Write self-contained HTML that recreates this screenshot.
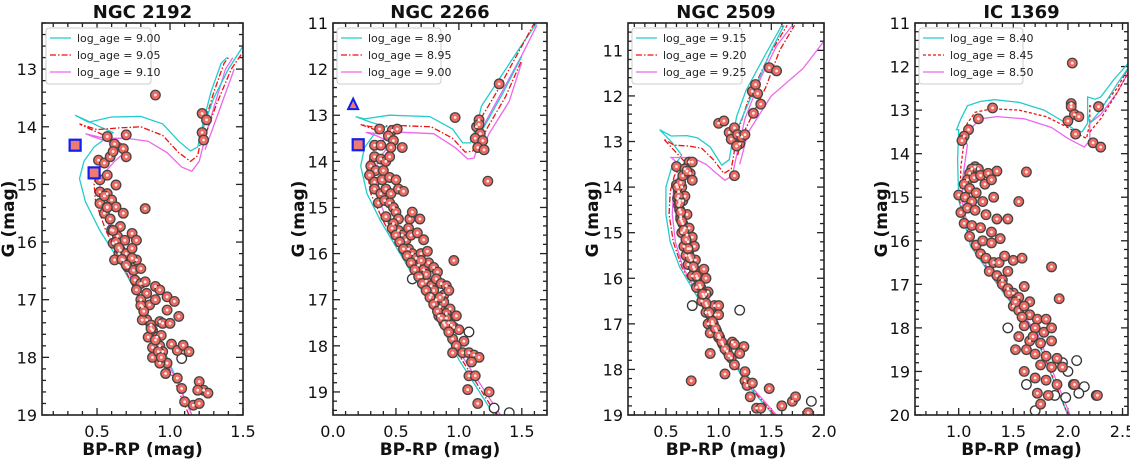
<!DOCTYPE html>
<html><head><meta charset="utf-8">
<style>
html,body{margin:0;padding:0;background:#fff;}
svg{display:block;font-family:"DejaVu Sans","Liberation Sans",sans-serif;}
</style></head>
<body>
<svg id="fig" width="1130" height="460" viewBox="0 0 1130 460"></svg>
<script>
// ---------- Panel 1: NGC 2192 ----------
const p1Title = "NGC 2192";
const p1Ages = ["9.00","9.05","9.10"];
const p1XTicks = [0.5,1.0,1.5];
const p1YTicks = [13,14,15,16,17,18,19];
const p1IsoA = [[1.15,19.0],[0.98,18.0],[0.8,17.0],[0.62,16.2],[0.52,15.8],[0.42,15.3],[0.38,14.9],[0.41,14.6],[0.48,14.35],[0.56,14.2],[0.61,14.1],[0.52,14.0],[0.42,13.88],[0.35,13.8],[0.44,13.92],[0.6,13.83],[0.8,13.82],[0.95,13.95],[1.06,14.25],[1.14,14.42],[1.19,14.35],[1.23,13.9],[1.28,13.4],[1.35,12.9],[1.39,12.8]];
const p1IsoA2 = [[1.2,14.2],[1.3,13.5],[1.4,13.0],[1.5,12.6]];
const p1IsoB = [[1.13,19.0],[0.96,18.0],[0.79,17.0],[0.64,16.2],[0.56,15.8],[0.49,15.3],[0.48,15.0],[0.5,14.75],[0.57,14.52],[0.64,14.38],[0.67,14.3],[0.55,14.15],[0.42,14.0],[0.38,13.95],[0.5,14.05],[0.65,14.02],[0.8,14.0],[0.95,14.15],[1.06,14.45],[1.14,14.6],[1.19,14.5],[1.23,14.0],[1.3,13.4],[1.37,12.9],[1.4,12.8]];
const p1IsoB2 = [[1.22,14.3],[1.32,13.6],[1.42,13.0],[1.5,12.7]];
const p1IsoC = [[1.15,19.0],[0.97,18.0],[0.8,17.0],[0.66,16.2],[0.58,15.7],[0.53,15.3],[0.52,15.0],[0.55,14.8],[0.62,14.6],[0.7,14.42],[0.6,14.28],[0.47,14.17],[0.42,14.12],[0.55,14.2],[0.7,14.2],[0.85,14.25],[0.98,14.45],[1.08,14.7],[1.15,14.77],[1.2,14.6],[1.25,14.1],[1.32,13.5],[1.38,13.0],[1.43,12.8]];
const p1IsoC2 = [[1.24,14.4],[1.34,13.7],[1.44,13.0]];
const p1MemX = [0.9,1.22,1.25,1.22,1.23,0.57,0.7,0.62,0.68,0.7,0.51,0.55,0.59,0.61,0.52,0.57,0.63,0.52,0.57,0.52,0.6,0.57,0.63,0.68,0.55,0.83,0.6,0.64,0.66,0.61,0.69,0.74,0.77,0.65,0.68,0.71,0.75,0.77,0.62,0.66,0.7,0.74,0.76,0.8,0.83,0.77,0.84,0.9,0.93,0.98,0.8,0.81,0.86,0.9,0.84,0.87,0.93,0.98,1.03,1.06,0.95,1.0,0.88,0.85,0.91,0.93,0.88,0.88,0.95,0.98,1.01,1.05,1.09,1.13,0.97,1.05,1.08,1.2,1.23,1.26,1.19,1.1,1.16,1.2,0.93,0.94,0.81,0.74,0.8,0.55,0.57,0.59,0.61,0.63,0.65,0.67,0.7,0.8,0.82,0.87,0.9,0.92,0.94];
const p1MemG = [13.45,13.77,13.88,14.1,14.23,14.17,14.14,14.3,14.38,14.52,14.58,14.63,14.52,14.43,14.92,14.84,15.01,15.13,15.16,15.33,15.27,15.39,15.39,15.5,15.5,15.42,15.79,15.9,15.73,16.02,15.97,15.85,15.97,16.2,16.31,16.43,16.49,16.31,16.31,16.14,16.2,16.11,16.66,16.72,16.69,16.83,16.89,16.77,16.83,16.95,17.0,17.12,17.09,17.0,17.35,17.44,17.38,17.18,17.03,17.29,17.41,17.41,17.53,17.65,17.65,17.8,17.83,18.0,17.9,18.1,17.77,17.88,17.79,17.9,18.28,18.36,18.54,18.42,18.57,18.62,18.57,18.77,18.83,18.8,18.1,17.62,17.35,16.28,16.46,15.2,15.4,15.6,15.8,16.0,16.1,16.3,16.4,17.1,17.2,17.5,17.7,17.9,18.0];
const p1NonX = [1.08];
const p1NonG = [18.02];
const p1SqX = [0.35,0.48];
const p1SqG = [14.32,14.8];
const p1TriX = [];
const p1TriG = [];

// ---------- Panel 2: NGC 2266 ----------
const p2Title = "NGC 2266";
const p2Ages = ["8.90","8.95","9.00"];
const p2XTicks = [0.0,0.5,1.0,1.5];
const p2YTicks = [11,12,13,14,15,16,17,18,19];
const p2IsoA = [[1.28,19.5],[1.0,18.3],[0.75,17.0],[0.5,15.85],[0.38,15.3],[0.27,14.7],[0.22,14.1],[0.25,13.7],[0.33,13.4],[0.42,13.25],[0.3,13.15],[0.18,13.03],[0.25,13.08],[0.45,13.0],[0.77,13.03],[0.95,13.3],[1.03,13.6],[1.09,13.6],[1.14,13.25],[1.18,12.8],[1.3,12.3],[1.51,11.43],[1.62,11.0]];
const p2IsoA2 = [[1.14,13.6],[1.19,13.3],[1.35,12.52],[1.5,11.72]];
const p2IsoB = [[1.3,19.5],[1.0,18.2],[0.76,17.0],[0.52,15.9],[0.4,15.3],[0.3,14.7],[0.27,14.2],[0.3,13.85],[0.37,13.6],[0.44,13.45],[0.32,13.3],[0.22,13.2],[0.3,13.25],[0.5,13.22],[0.78,13.25],[0.95,13.5],[1.05,13.8],[1.11,13.78],[1.15,13.45],[1.19,13.0],[1.3,12.5],[1.48,11.6],[1.6,11.0]];
const p2IsoB2 = [[1.15,13.75],[1.22,13.3],[1.37,12.6],[1.5,11.8]];
const p2IsoC = [[1.33,19.5],[1.02,18.2],[0.78,17.0],[0.54,15.9],[0.43,15.3],[0.35,14.7],[0.33,14.3],[0.36,13.95],[0.42,13.75],[0.47,13.6],[0.35,13.45],[0.26,13.37],[0.35,13.4],[0.55,13.37],[0.8,13.4],[0.97,13.7],[1.07,13.95],[1.12,13.93],[1.16,13.6],[1.2,13.2],[1.32,12.6],[1.5,11.7],[1.62,11.05]];
const p2IsoC2 = [[1.17,13.8],[1.24,13.4],[1.4,12.7],[1.5,11.85]];
const p2MemX = [0.97,1.32,0.47,0.51,0.44,0.48,0.37,0.33,0.38,0.46,0.55,0.33,0.38,0.42,0.45,0.3,0.34,0.4,0.29,0.33,0.39,0.45,0.5,0.33,0.38,0.42,0.46,0.52,0.56,0.36,0.41,0.45,0.48,0.5,0.42,0.52,0.61,0.6,0.69,0.63,0.48,0.52,0.55,0.58,0.62,0.67,0.72,0.6,0.63,0.66,0.7,0.75,0.68,0.72,0.76,0.8,0.83,0.96,0.7,0.74,0.78,0.82,0.86,0.9,0.88,0.92,0.78,0.82,0.85,0.88,0.93,0.98,0.9,0.84,0.88,0.92,0.96,1.0,0.95,1.04,0.98,1.03,0.95,1.08,1.12,1.16,1.1,1.08,1.13,1.07,1.15,1.24,1.16,1.14,1.17,1.13,1.19,1.15,1.2,1.16,1.23,0.7,0.74,0.8,0.85,0.9,0.94,0.47,0.5,0.53,0.56,0.59,0.62,0.65,0.68,0.71,0.74,0.77,0.8,0.83,0.86,0.89,0.92];
const p2MemG = [13.05,12.32,13.33,13.3,13.45,13.55,13.3,13.65,13.65,13.7,13.7,13.9,13.95,14.0,13.9,14.1,14.2,14.2,14.3,14.45,14.4,14.35,14.4,14.6,14.7,14.6,14.7,14.6,14.65,14.9,14.85,14.9,15.0,15.1,15.2,15.25,15.25,15.45,15.25,15.1,15.35,15.5,15.6,15.7,15.6,15.55,15.7,15.9,16.0,16.1,16.0,15.95,16.25,16.35,16.2,16.3,16.4,16.15,16.5,16.6,16.7,16.55,16.65,16.7,16.9,16.8,16.9,17.0,17.15,17.05,17.2,17.35,17.3,17.35,17.5,17.5,17.6,17.65,17.85,17.9,18.0,18.15,18.15,18.15,18.2,18.25,18.35,18.65,18.65,18.95,19.25,19.0,13.1,13.25,13.4,13.5,13.55,13.7,13.75,13.2,14.43,16.15,16.45,16.8,16.95,17.4,17.55,15.45,15.6,15.75,15.9,16.05,16.2,16.35,16.5,16.65,16.8,16.95,17.1,17.25,17.4,17.55,17.7];
const p2NonX = [0.63,1.08,1.28,1.4];
const p2NonG = [16.55,17.7,19.35,19.45];
const p2SqX = [0.2];
const p2SqG = [13.64];
const p2TriX = [0.16];
const p2TriG = [12.77];

// ---------- Panel 3: NGC 2509 ----------
const p3Title = "NGC 2509";
const p3Ages = ["9.15","9.20","9.25"];
const p3XTicks = [0.5,1.0,1.5,2.0];
const p3YTicks = [11,12,13,14,15,16,17,18,19];
const p3IsoA = [[1.52,19.0],[1.26,18.3],[1.07,17.57],[0.82,16.5],[0.63,15.75],[0.54,15.2],[0.5,14.6],[0.5,14.0],[0.55,13.6],[0.62,13.4],[0.65,13.3],[0.55,13.0],[0.44,12.74],[0.55,12.88],[0.7,12.87],[0.8,12.92],[0.92,13.12],[1.03,13.52],[1.1,13.4],[1.17,12.46],[1.26,11.88],[1.45,11.07],[1.6,10.45]];
const p3IsoA2 = [[1.15,13.0],[1.2,12.6],[1.35,11.8],[1.5,11.0],[1.62,10.45]];
const p3IsoB = [[1.53,19.0],[1.27,18.3],[1.08,17.57],[0.83,16.5],[0.65,15.75],[0.57,15.2],[0.53,14.6],[0.54,14.1],[0.58,13.75],[0.65,13.55],[0.68,13.45],[0.58,13.2],[0.48,12.95],[0.58,13.08],[0.72,13.1],[0.84,13.15],[0.95,13.4],[1.05,13.7],[1.12,13.6],[1.18,12.8],[1.28,12.1],[1.48,11.1],[1.65,10.45]];
const p3IsoB2 = [[1.18,13.3],[1.24,12.8],[1.45,11.8],[1.58,11.0],[1.72,10.45]];
const p3IsoC = [[1.55,19.0],[1.28,18.3],[1.09,17.57],[0.84,16.5],[0.66,15.75],[0.59,15.2],[0.56,14.6],[0.57,14.1],[0.61,13.8],[0.68,13.65],[0.6,13.45],[0.55,13.35],[0.62,13.35],[0.75,13.35],[0.88,13.5],[0.98,13.7],[1.06,13.85],[1.13,13.75],[1.18,13.2],[1.25,12.5],[1.4,11.6],[1.55,10.9],[1.7,10.45]];
const p3IsoC2 = [[1.2,13.5],[1.28,12.8],[1.5,12.0],[1.8,11.4],[2.0,10.8]];
const p3MemX = [0.6,0.72,0.75,0.68,0.73,0.75,0.6,0.62,0.61,0.62,0.63,0.64,0.66,0.68,0.7,0.71,0.73,0.72,0.7,0.72,0.75,0.77,0.66,0.65,0.68,0.74,0.77,0.8,0.83,0.86,0.89,0.92,0.95,0.98,1.01,1.04,1.08,1.12,1.15,0.78,0.86,0.88,0.9,0.88,0.96,1.0,0.97,1.0,0.9,0.92,0.92,1.06,0.74,1.13,1.15,1.24,1.2,1.25,1.25,1.27,1.32,1.3,1.36,1.4,1.48,1.6,1.7,1.73,1.85,1.0,1.05,1.1,1.15,1.12,1.18,1.2,1.22,1.25,1.17,1.15,1.33,1.4,1.32,1.35,1.48,1.55,1.37,0.63,0.64,0.65,0.67,0.69,0.71,0.75,0.79,0.84,0.88,0.94,1.0,1.06,0.61,0.62,0.63,0.64,0.65,0.67,0.69,0.71,0.73,0.76,0.79,0.82,0.85,0.88,0.91,0.94,0.97,1.0,1.03,1.06,1.1,0.64,0.66,0.7];
const p3MemG = [13.55,13.45,13.45,13.6,13.7,13.85,13.95,14.1,14.25,14.4,14.5,14.65,14.8,14.9,15.05,15.2,15.35,15.5,14.6,14.9,15.1,15.3,14.3,14.0,14.2,15.6,15.8,16.0,16.2,16.4,16.6,16.8,17.0,17.15,17.3,17.45,17.6,17.75,17.9,15.6,15.8,16.0,16.3,16.35,16.6,16.6,16.8,16.8,17.0,17.2,17.65,18.1,18.25,17.4,17.45,17.5,17.65,18.05,18.25,18.35,18.3,18.6,18.85,18.85,18.42,18.8,18.7,18.6,18.95,12.6,12.55,12.8,12.7,12.95,12.85,13.05,12.9,12.85,13.1,13.75,12.38,12.18,11.9,11.75,11.38,11.45,11.95,14.3,14.7,15.0,15.3,15.5,15.7,15.95,16.2,16.5,16.75,17.0,17.3,17.55,14.0,14.2,14.35,14.55,14.75,14.95,15.15,15.35,15.55,15.75,15.95,16.15,16.35,16.55,16.75,16.95,17.1,17.25,17.4,17.55,17.7,13.9,13.75,13.65];
const p3NonX = [0.75,1.2,1.88];
const p3NonG = [16.6,16.7,18.7];
const p3SqX = [];
const p3SqG = [];
const p3TriX = [];
const p3TriG = [];

// ---------- Panel 4: IC 1369 ----------
const p4Title = "IC 1369";
const p4Ages = ["8.40","8.45","8.50"];
const p4XTicks = [1.0,1.5,2.0,2.5];
const p4YTicks = [11,12,13,14,15,16,17,18,19,20];
const p4IsoA = [[2.0,20.0],[1.69,18.12],[1.39,17.13],[1.11,16.13],[1.0,15.06],[0.99,14.14],[1.0,13.45],[0.98,13.45],[1.02,13.2],[1.08,12.9],[1.2,12.8],[1.33,12.76],[1.55,12.82],[1.78,13.0],[1.95,13.25],[2.06,13.45],[2.13,13.5],[2.18,13.3],[2.18,12.7],[2.25,12.75],[2.3,12.7],[2.42,12.3],[2.56,11.9]];
const p4IsoA2 = [[2.18,13.1],[2.2,13.3],[2.3,13.0],[2.45,12.4],[2.56,12.0]];
const p4IsoB = [[2.0,20.0],[1.7,18.12],[1.4,17.13],[1.12,16.13],[1.01,15.1],[1.02,14.3],[1.05,13.7],[1.03,13.6],[1.08,13.3],[1.15,13.05],[1.3,12.97],[1.55,13.0],[1.8,13.15],[2.0,13.4],[2.13,13.6],[2.17,13.65],[2.2,13.3],[2.2,12.9],[2.3,12.95],[2.45,12.5],[2.56,12.0]];
const p4IsoB2 = [[2.2,13.5],[2.3,13.2],[2.45,12.6],[2.56,12.1]];
const p4IsoC = [[2.02,20.0],[1.72,18.12],[1.41,17.13],[1.13,16.13],[1.03,15.1],[1.04,14.5],[1.08,13.8],[1.06,13.7],[1.12,13.4],[1.2,13.2],[1.35,13.15],[1.6,13.2],[1.85,13.4],[2.0,13.65],[2.15,13.85],[2.2,13.7],[2.2,13.3],[2.3,13.1],[2.45,12.6],[2.56,12.1]];
const p4IsoC2 = [];
const p4MemX = [2.04,2.03,2.03,2.06,2.1,2.0,2.07,2.23,2.3,2.28,1.31,1.18,1.09,1.05,1.03,1.15,1.18,1.12,1.1,1.35,1.62,1.08,1.14,1.2,1.27,1.05,1.1,1.16,1.24,1.3,1.0,1.06,1.12,1.22,1.32,1.55,1.02,1.08,1.15,1.25,1.35,1.45,1.05,1.12,1.2,1.3,1.1,1.16,1.22,1.3,1.38,1.2,1.25,1.32,1.37,1.42,1.5,1.58,1.28,1.35,1.4,1.45,1.85,1.4,1.45,1.5,1.55,1.6,1.65,1.92,1.5,1.55,1.6,1.65,1.72,1.8,1.6,1.7,1.78,1.85,1.55,1.65,1.75,1.85,1.62,1.7,1.8,1.9,1.52,1.75,1.85,1.95,1.6,1.7,1.8,1.9,1.72,1.82,1.75,2.06,2.27,1.46,1.52,1.58,1.68];
const p4MemG = [11.92,12.85,12.92,13.1,13.15,13.25,13.55,13.75,13.85,12.92,12.95,13.2,13.45,13.6,13.7,14.3,14.35,14.35,14.45,14.4,14.42,14.6,14.55,14.5,14.45,14.7,14.8,14.9,14.7,14.6,14.95,15.0,15.1,15.1,15.0,15.1,15.35,15.25,15.3,15.4,15.5,15.5,15.6,15.65,15.7,15.8,15.9,16.1,16.0,16.05,15.95,16.3,16.4,16.5,16.5,16.35,16.45,16.4,16.7,16.8,16.9,16.7,16.6,17.0,17.1,17.2,17.3,17.05,17.4,17.33,17.5,17.6,17.5,17.7,17.8,17.8,17.95,18.0,18.1,18.0,18.2,18.3,18.35,18.3,18.5,18.6,18.65,18.7,18.5,18.85,18.9,18.9,19.0,19.15,19.2,19.3,19.5,19.55,19.75,19.3,19.55,17.2,17.4,17.75,18.2];
const p4NonX = [1.45,1.95,2.08,2.0,2.05,1.62,1.7,2.15,1.88,2.26,2.1,1.98];
const p4NonG = [18.0,18.8,18.75,19.0,19.3,19.3,19.9,19.35,19.55,19.55,19.5,19.6];
const p4SqX = [];
const p4SqG = [];
const p4TriX = [];
const p4TriG = [];

const NS = "http://www.w3.org/2000/svg";
const svg = document.getElementById("fig");
function mk(tag, attrs, parent){
  const e = document.createElementNS(NS, tag);
  for (const k in attrs) e.setAttribute(k, attrs[k]);
  (parent||svg).appendChild(e);
  return e;
}
const COLORS = ["#22cccc","#ee1111","#ee66ee"];

function panel(cfg){
  const {L,R,T,B,x0,x1,y0,y1,xMinor,yMinor,yMinorStart,title,ages,xt,yt,isos,memX,memG,nonX,nonG,sqX,sqG,triX,triG,legendW,dash2,key} = cfg;
  const g = mk("g",{});
  
  
  const sx = v => L + (v-x0)/(x1-x0)*(R-L);
  const sy = v => T + (v-y0)/(y1-y0)*(B-T);
  const cid = "clip-"+key;
  const cp = mk("clipPath",{id:cid},g);
  mk("rect",{x:L,y:T,width:R-L,height:B-T},cp);
  const tg = mk("g",{stroke:"#222","stroke-width":1.3},g);
  
  
  for (let v=Math.ceil(x0/xMinor-1e-6)*xMinor; v<=x1+1e-6; v+=xMinor){
    const px=sx(v);
    const major = xt.some(t=>Math.abs(t-v)<1e-6);
    const len = major?7:4;
    mk("line",{x1:px,y1:B,x2:px,y2:B-len},tg);
    mk("line",{x1:px,y1:T,x2:px,y2:T+len},tg);
  }
  for (let v=yMinorStart; v<=y1+1e-6; v+=yMinor){
    if (v<y0-1e-6) continue;
    const py=sy(v);
    const major = yt.some(t=>Math.abs(t-v)<1e-6);
    const len = major?7:4;
    mk("line",{x1:L,y1:py,x2:L+len,y2:py},tg);
    mk("line",{x1:R,y1:py,x2:R-len,y2:py},tg);
  }
  xt.forEach(v=>{
    const t = mk("text",{x:sx(v),y:B+22,"font-size":16,"text-anchor":"middle",fill:"#111"},g);
    
    
    t.textContent = v.toFixed(1);
  });
  yt.forEach(v=>{
    const t = mk("text",{x:L-5,y:sy(v)+6,"font-size":16,"text-anchor":"end",fill:"#111"},g);
    
    
    t.textContent = String(v);
  });
  const ig = mk("g",{"clip-path":"url(#"+cid+")",fill:"none","stroke-width":1.3},g);
  isos.forEach((arr,i)=>{
    if(!arr.length) return;
    const c = COLORS[i%3];
    const d = arr.map((p,j)=>(j?"L":"M")+sx(p[0]).toFixed(1)+","+sy(p[1]).toFixed(1)).join("");
    const path = mk("path",{d:d,stroke:c,"stroke-dasharray":(i%3===1)?dash2:"none"},ig);
    
    
  });
  const pg = mk("g",{"clip-path":"url(#"+cid+")"},g);
  nonX.forEach((v,i)=>{
    const c = mk("circle",{cx:sx(v),cy:sy(nonG[i]),r:4.8,fill:"#fff",stroke:"#333","stroke-width":1.3},pg);
    
    
  });
  memX.forEach((v,i)=>{
    const c = mk("circle",{cx:sx(v),cy:sy(memG[i]),r:4.8,fill:"#ec6a62",stroke:"#444","stroke-width":1.3},pg);
    
    
  });
  memX.forEach((v,i)=>{
    mk("circle",{cx:sx(v),cy:sy(memG[i]),r:1.4,fill:"#ffe8e6"},pg);
  });
  sqX.forEach((v,i)=>{
    const s = mk("rect",{x:sx(v)-5.5,y:sy(sqG[i])-5.5,width:11,height:11,fill:"#f07a72",stroke:"#1020ee","stroke-width":2.2},pg);
    
    
  });
  triX.forEach((v,i)=>{
    const px=sx(v), py=sy(triG[i]);
    const s = mk("polygon",{points:`${px},${py-6} ${px-5},${py+4.5} ${px+5},${py+4.5}`,fill:"#f07a72",stroke:"#1020ee","stroke-width":2},pg);
    
    
  });
  const fr = mk("rect",{x:L,y:T,width:R-L,height:B-T,fill:"none",stroke:"#222","stroke-width":1.6},g);
  
  
  const lg = mk("g",{},g);
  
  
  mk("rect",{x:L+4,y:T+5,width:legendW,height:56,rx:3,fill:"#fff",stroke:"#ccc","stroke-width":1},lg);
  ages.forEach((a,i)=>{
    const yy = T+15+i*17;
    const ln = mk("line",{x1:L+8,y1:yy,x2:L+29,y2:yy,stroke:COLORS[i],"stroke-width":1.3,"stroke-dasharray":i===1?dash2:"none"},lg);
    
    
    const t = mk("text",{x:L+35,y:yy+4,"font-size":11,fill:"#222"},lg);
    
    
    t.textContent = "log_age = "+a;
  });
  const tt = mk("text",{x:(L+R)/2,y:18,"font-size":18,"font-weight":"bold","text-anchor":"middle",fill:"#111"},g);
  
  
  tt.textContent = title;
  const xl = mk("text",{x:(L+R)/2,y:455,"font-size":17,"font-weight":"bold","text-anchor":"middle",fill:"#111"},g);
  
  
  xl.textContent = "BP-RP (mag)";
  const yl = mk("text",{x:0,y:0,"font-size":17,"font-weight":"bold","text-anchor":"middle",fill:"#111",transform:`translate(${cfg.ylx},${(T+B)/2}) rotate(-90)`},g);
  
  
  yl.textContent = "G (mag)";
}

panel({key:"ngc2192",L:42,R:243,T:23,B:415,x0:0.123,x1:1.5,y0:12.2,y1:19,xMinor:0.1,yMinor:0.2,yMinorStart:12.2,
  title:p1Title,ages:p1Ages,xt:p1XTicks,yt:p1YTicks,isos:[p1IsoA,p1IsoB,p1IsoC,p1IsoA2,p1IsoB2,p1IsoC2],
  memX:p1MemX,memG:p1MemG,nonX:p1NonX,nonG:p1NonG,sqX:p1SqX,sqG:p1SqG,triX:p1TriX,triG:p1TriG,legendW:105,dash2:"6,2,1.5,2",ylx:14});
panel({key:"ngc2266",L:333,R:547,T:23,B:415,x0:0.0,x1:1.7,y0:11,y1:19.5,xMinor:0.1,yMinor:0.2,yMinorStart:11,
  title:p2Title,ages:p2Ages,xt:p2XTicks,yt:p2YTicks,isos:[p2IsoA,p2IsoB,p2IsoC,p2IsoA2,p2IsoB2,p2IsoC2],
  memX:p2MemX,memG:p2MemG,nonX:p2NonX,nonG:p2NonG,sqX:p2SqX,sqG:p2SqG,triX:p2TriX,triG:p2TriG,legendW:104,dash2:"6,2,1.5,2",ylx:304});
panel({key:"ngc2509",L:628,R:824,T:23,B:415,x0:0.14,x1:2.0,y0:10.4,y1:19,xMinor:0.1,yMinor:0.2,yMinorStart:10.4,
  title:p3Title,ages:p3Ages,xt:p3XTicks,yt:p3YTicks,isos:[p3IsoA,p3IsoB,p3IsoC,p3IsoA2,p3IsoB2,p3IsoC2],
  memX:p3MemX,memG:p3MemG,nonX:p3NonX,nonG:p3NonG,sqX:p3SqX,sqG:p3SqG,triX:p3TriX,triG:p3TriG,legendW:110,dash2:"6,2,1.5,2",ylx:598});
panel({key:"ic1369",L:915,R:1128,T:23,B:415,x0:0.6,x1:2.55,y0:11,y1:20,xMinor:0.1,yMinor:0.2,yMinorStart:11,
  title:p4Title,ages:p4Ages,xt:p4XTicks,yt:p4YTicks,isos:[p4IsoA,p4IsoB,p4IsoC,p4IsoA2,p4IsoB2,p4IsoC2],
  memX:p4MemX,memG:p4MemG,nonX:p4NonX,nonG:p4NonG,sqX:p4SqX,sqG:p4SqG,triX:p4TriX,triG:p4TriG,legendW:104,dash2:"3,2",ylx:887});
</script>
</body></html>
